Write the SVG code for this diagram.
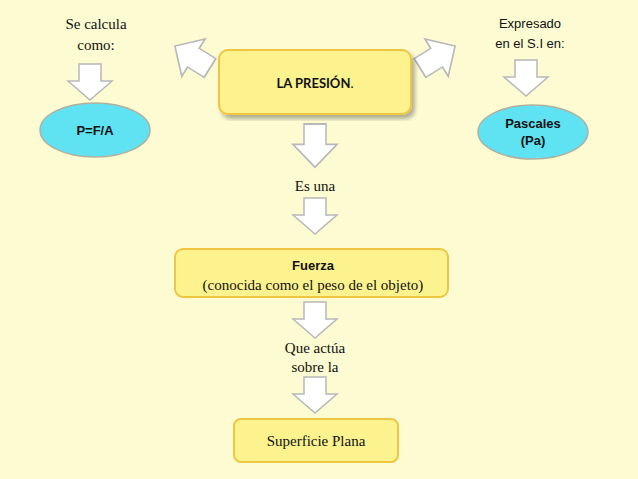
<svg xmlns="http://www.w3.org/2000/svg" width="638" height="479" viewBox="0 0 638 479">
<style>
.ar{fill:#fff;stroke:#b8b8b8;stroke-width:1.5}
.bx{fill:#fdf38e;stroke:#eec642;stroke-width:2}
.el{fill:#5fe2f2;stroke:#b0b0a0;stroke-width:1.5}
.s{font-family:"Liberation Serif",serif;font-size:15px;fill:#111;text-anchor:middle}
.a{font-family:"Liberation Sans",sans-serif;font-size:13px;fill:#111;text-anchor:middle}
</style>
<defs>
<path id="da" d="M-11,0 H11 V17 H22 L0,36 L-22,17 H-11 Z"/>
<filter id="sh"><feDropShadow dx="3" dy="4" stdDeviation="2" flood-color="#000" flood-opacity="0.3"/></filter>
</defs>
<rect width="638" height="479" fill="#fdfbd2"/>
<g id="connectors">
<use href="#da" class="ar" transform="translate(90,64)"/>
<use href="#da" class="ar" transform="translate(526,60)"/>
<use href="#da" class="ar" transform="translate(315,124) scale(1,1.2)"/>
<use href="#da" class="ar" transform="translate(315,198)"/>
<use href="#da" class="ar" transform="translate(315,302)"/>
<use href="#da" class="ar" transform="translate(315,377)"/>
<use href="#da" class="ar" transform="translate(210,68) rotate(122) scale(1,1.15)"/>
<use href="#da" class="ar" transform="translate(420,68) rotate(-122) scale(1,1.15)"/>
</g>
<g id="presion"><rect x="219" y="50" width="192" height="64" rx="9" class="bx" filter="url(#sh)" stroke-width="3"/>
<text x="315" y="88" font-family="Lato,sans-serif" font-weight="bold" font-size="13" text-anchor="middle" fill="#111">LA PRESIÓN<tspan font-weight="normal">.</tspan></text></g>
<g id="se"><text x="96" y="29" class="s">Se calcula</text><text x="96" y="50" class="s">como:</text></g>
<g id="pfa"><ellipse cx="95" cy="130" rx="55" ry="27" class="el"/><text x="95" y="135" class="a" font-weight="bold">P=F/A</text></g>
<g id="exp"><text x="530" y="28" class="a">Expresado</text><text x="530" y="48" class="a">en el S.I en:</text></g>
<g id="pa"><ellipse cx="533" cy="132" rx="55" ry="27" class="el"/><text x="533" y="128" class="a" font-weight="bold">Pascales</text><text x="533" y="145" class="a" font-weight="bold">(Pa)</text></g>
<g id="es"><text x="315" y="191" class="s">Es una</text></g>
<g id="fuerza"><rect x="175" y="249" width="273" height="48" rx="8" class="bx"/>
<text x="313" y="270" class="a" font-weight="bold" font-size="15">Fuerza</text>
<text x="313" y="290" class="s">(conocida como el peso de el objeto)</text></g>
<g id="que"><text x="315" y="353" class="s">Que actúa</text><text x="315" y="372" class="s">sobre la</text></g>
<g id="sup"><rect x="234" y="419" width="164" height="43" rx="7" class="bx"/><text x="316" y="446" class="s">Superficie Plana</text></g>
</svg>
